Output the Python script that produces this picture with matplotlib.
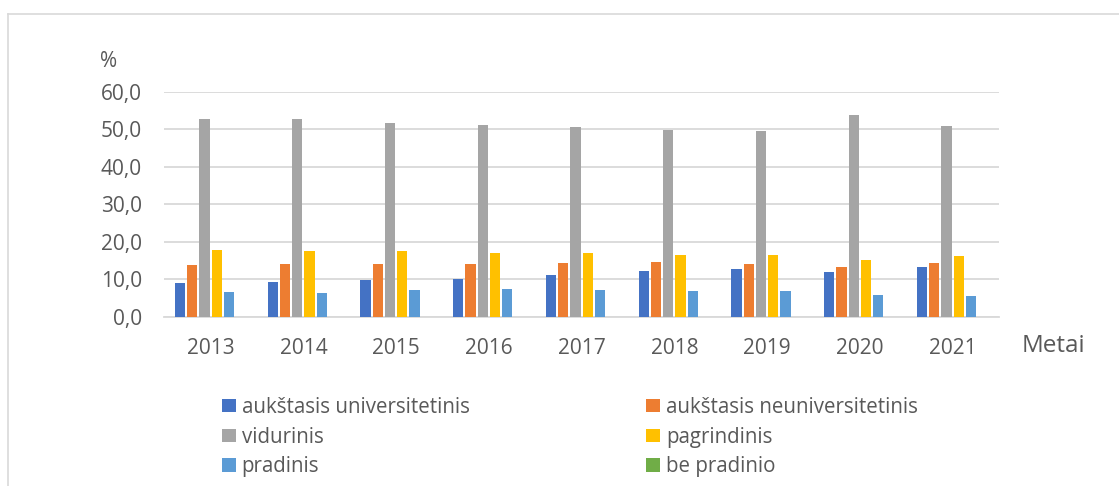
import matplotlib.pyplot as plt
import numpy as np
from matplotlib.lines import Line2D

plt.rcParams['font.family'] = ['Open Sans', 'DejaVu Sans']

# data
metai = ['2013', '2014', '2015', '2016', '2017', '2018', '2019', '2020', '2021']
aukst_univ = [9.1, 9.2, 9.8, 10.1, 11.0, 12.3, 12.8, 12.0, 13.2]
aukst_neuniv = [13.8, 14.0, 14.0, 14.1, 14.3, 14.5, 14.0, 13.3, 14.2]
vidurinis = [52.6, 52.6, 51.6, 51.1, 50.5, 49.9, 49.6, 53.7, 50.9]
pagrindinis = [17.8, 17.5, 17.5, 16.9, 16.9, 16.4, 16.4, 15.1, 16.2]
pradinis = [6.6, 6.3, 7.1, 7.4, 7.1, 6.9, 6.9, 5.8, 5.6]
be_pradinio = [0, 0, 0, 0, 0, 0, 0, 0, 0]

serijos = [
    ('aukštasis universitetinis', aukst_univ, '#4472C4'),
    ('aukštasis neuniversitetinis', aukst_neuniv, '#ED7D31'),
    ('vidurinis', vidurinis, '#A5A5A5'),
    ('pagrindinis', pagrindinis, '#FFC000'),
    ('pradinis', pradinis, '#5B9BD5'),
    ('be pradinio', be_pradinio, '#70AD47'),
]

W, H = 1119, 486
fig = plt.figure(figsize=(W / 100, H / 100), dpi=100)
txt_col = '#595959'
grid_col = '#D9D9D9'

# plot area in pixels
x0, x1 = 164.3, 999.0
y_top, y_bot = 91.7, 316.7
ax = fig.add_axes([x0 / W, 1 - y_bot / H, (x1 - x0) / W, (y_bot - y_top) / H])

x = np.arange(len(metai))
slot = 0.132
bw = 0.11
handles = []
for i, (name, vals, col) in enumerate(serijos):
    off = (i - 2.5) * slot
    b = ax.bar(x + off, vals, bw, color=col, label=name, zorder=3)
    handles.append(b)

ax.set_xlim(-0.5, len(metai) - 0.5)
ax.set_ylim(0, 60)
ax.set_yticks(np.arange(0, 61, 10))
ax.set_yticklabels([f'{v:.1f}'.replace('.', ',') for v in np.arange(0, 61, 10)])
ax.set_xticks(x)
ax.set_xticklabels(metai)
ax.yaxis.grid(True, color=grid_col, lw=1.3, zorder=0)
ax.set_axisbelow(True)
for s in ['top', 'right', 'left']:
    ax.spines[s].set_visible(False)
ax.spines['bottom'].set_color(grid_col)
ax.spines['bottom'].set_linewidth(1.3)
ax.tick_params(axis='both', length=0, labelsize=15, colors=txt_col)
ax.tick_params(axis='y', pad=16)
ax.tick_params(axis='x', pad=15.5)

fig.text(109 / W, 1 - 67 / H, '%', ha='center', va='baseline', fontsize=15, color=txt_col)
fig.text(1022 / W, 1 - 352 / H, 'Metai', ha='left', va='baseline', fontsize=17.5, color=txt_col)

order = [0, 2, 4, 1, 3, 5]
leg = fig.legend([handles[i] for i in order], [serijos[i][0] for i in order],
                 ncol=2, loc='upper left', bbox_to_anchor=(222 / W, 1 - 397 / H),
                 frameon=False, fontsize=14.8, borderpad=0, borderaxespad=0,
                 handlelength=0.68, handleheight=0.63, handletextpad=0.28,
                 columnspacing=8.6, labelspacing=0.42)
for t in leg.get_texts():
    t.set_color(txt_col)

# chart frame (top and left edges visible)
fig.add_artist(Line2D([8 / W, 1.0], [1 - 14 / H, 1 - 14 / H], color=grid_col, lw=1.2))
fig.add_artist(Line2D([8 / W, 8 / W], [0.0, 1 - 14 / H], color=grid_col, lw=1.2))

fig.savefig('out.png', dpi=100)
